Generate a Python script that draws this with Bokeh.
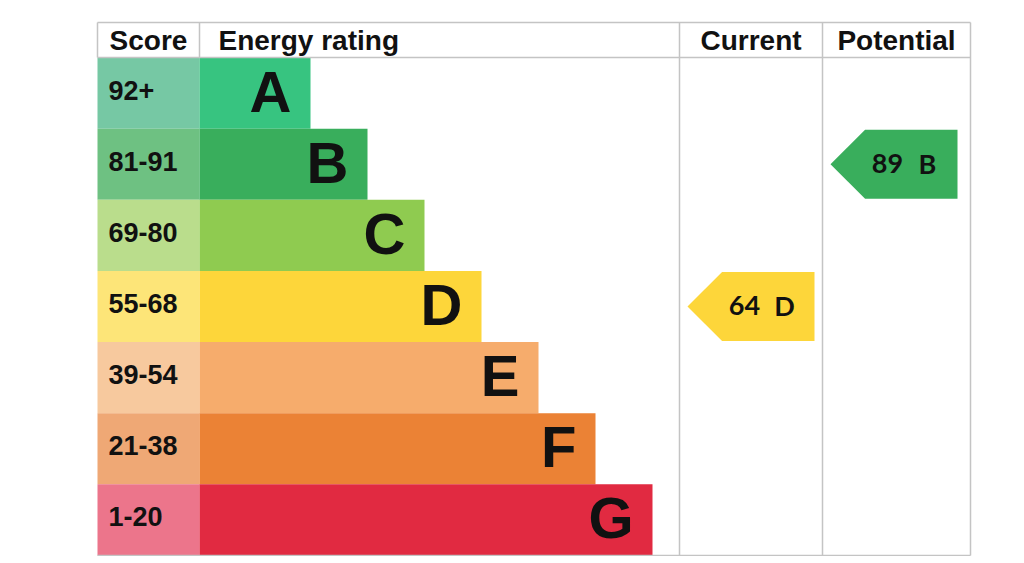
from bokeh.plotting import figure
from bokeh.models import Range1d
from bokeh.core.properties import value
from bokeh.embed import file_html
from bokeh.resources import INLINE

# ---- data ----
ratings = ["A", "B", "C", "D", "E", "F", "G"]
score_labels = ["92+", "81-91", "69-80", "55-68", "39-54", "21-38", "1-20"]
score_min = [92, 81, 69, 55, 39, 21, 1]
bar_colors = ["#37c480", "#39ae5c", "#8fcb50", "#fdd63a", "#f6ac6c", "#eb8235", "#e12a41"]
score_colors = ["#76c8a4", "#6ec182", "#badd8c", "#fde578", "#f7c99e", "#efa875", "#ec758b"]
headers = ["Score", "Energy rating", "Current", "Potential"]
current_score = 64
potential_score = 89

# ---- layout (pixel space) ----
X0, X_SCORE, X_CUR, X_POT, X1 = 97, 199, 679, 822, 970
Y0, Y_HEAD, Y1 = 22, 57, 555
ROW_H = (Y1 - Y_HEAD) / len(ratings)
BAR_BASE = 310
BAR_STEP = 57
ARROW_W = 127

FONT = value("Liberation Sans")
LINE_C = "#c4c4c4"

p = figure(width=1008, height=556, output_backend="svg", toolbar_location=None,
           x_range=Range1d(0, 1008), y_range=Range1d(556, 0),
           min_border=0, outline_line_color=None)
p.axis.visible = False
p.grid.visible = False
p.background_fill_color = "white"
p.border_fill_color = "white"

tops = [Y_HEAD + i * ROW_H for i in range(len(ratings))]
bottoms = [t + ROW_H for t in tops]
rights = [BAR_BASE + i * BAR_STEP for i in range(len(ratings))]
mids = [(t + b) / 2 for t, b in zip(tops, bottoms)]

# score column cells
p.quad(left=[X0] * 7, right=[X_SCORE] * 7, top=tops, bottom=bottoms,
       fill_color=score_colors, line_color=None)
# bars
p.quad(left=[X_SCORE] * 7, right=rights, top=tops, bottom=bottoms,
       fill_color=bar_colors, line_color=None)

# grid lines
xs0 = [X0, X0, X0, X0, X_SCORE, X_CUR, X_POT, X1]
ys0 = [Y0, Y_HEAD, Y1, Y0, Y0, Y0, Y0, Y0]
xs1 = [X1, X1, X1, X0, X_SCORE, X_CUR, X_POT, X1]
ys1 = [Y0, Y_HEAD, Y1, Y_HEAD, Y_HEAD, Y1, Y1, Y1]
p.segment(x0=xs0, y0=ys0, x1=xs1, y1=ys1, line_color=LINE_C, line_width=1.5)

# headers
hx = [(X0 + X_SCORE) / 2, X_SCORE + 19, (X_CUR + X_POT) / 2, (X_POT + X1) / 2]
halign = ["center", "left", "center", "center"]
p.text(x=hx, y=[Y0 + 18] * 4, text=headers, text_align=halign, text_baseline="middle",
       text_font=FONT, text_font_style="bold", text_font_size="28px", text_color="#111111")

# score labels
p.text(x=[108] * 7, y=[m - 3 for m in mids], text=score_labels, text_align="left",
       text_baseline="middle", text_font=FONT, text_font_style="bold",
       text_font_size="27px", text_color="#111111")

# rating letters
p.text(x=[r - 19 for r in rights], y=[m - 2 for m in mids], text=ratings, text_align="right",
       text_baseline="middle", text_font=FONT, text_font_style="bold",
       text_font_size="58px", text_color="#111111")


def band(score):
    for i, lo in enumerate(score_min):
        if score >= lo:
            return i
    return len(score_min) - 1


def arrow(score, col_left):
    i = band(score)
    t = tops[i] + 1
    b = bottoms[i] - 1
    h = b - t
    tip = col_left + 8
    right = tip + ARROW_W
    xs = [tip, tip + h / 2, right, right, tip + h / 2]
    ys = [(t + b) / 2, t, t, b, b]
    p.patch(x=xs, y=ys, fill_color=bar_colors[i], line_color=None)
    p.text(x=[right - 70, right - 30], y=[(t + b) / 2 - 1] * 2,
           text=[str(score), ratings[i]], text_align="center", text_baseline="middle",
           text_font=value("Lato"), text_font_style="bold", text_font_size="27px",
           text_color="#111111")


arrow(current_score, X_CUR)
arrow(potential_score, X_POT)

open("out.html", "w").write(file_html(p, INLINE))
